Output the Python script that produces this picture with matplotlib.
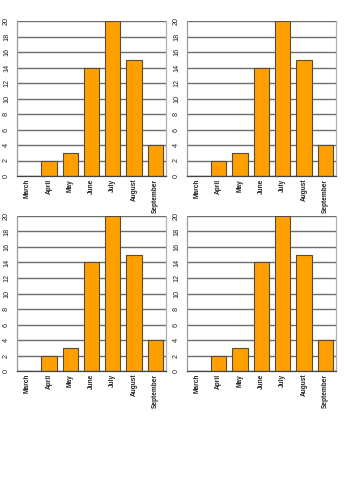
import matplotlib

matplotlib.use("Agg")
import matplotlib.pyplot as plt

months = ["March", "April", "May", "June", "July", "August", "September"]
counts = [0, 2, 3, 14, 20, 15, 4]
y_ticks = [0, 2, 4, 6, 8, 10, 12, 14, 16, 18, 20]

BAR_FACE = "#ffa000"
BAR_EDGE = "#5a4a38"
GRID = "#6e6e6e"

plt.rcParams["font.family"] = ["Liberation Sans", "DejaVu Sans"]

fig = plt.figure(figsize=(3.46, 5.0), dpi=100, facecolor="white")

# same chart repeated in a 2x2 sheet
panels = [
    (0.049, 0.648),
    (0.540, 0.648),
    (0.049, 0.258),
    (0.540, 0.258),
]
width, height = 0.431, 0.310

for left, bottom in panels:
    ax = fig.add_axes([left, bottom, width, height])
    ax.set_axisbelow(True)
    ax.yaxis.grid(True, color=GRID, linewidth=1.0)
    ax.bar(range(len(months)), counts, width=0.72, color=BAR_FACE,
           edgecolor=BAR_EDGE, linewidth=0.8)
    ax.set_xlim(-0.5, len(months) - 0.5)
    ax.set_ylim(0, 20)
    ax.set_yticks(y_ticks)
    ax.set_yticklabels([str(v) for v in y_ticks], rotation=90, va="center",
                       fontsize=5.2, color="#222222")
    ax.set_xticks(range(len(months)))
    ax.set_xticklabels(months, rotation=90, fontsize=4.7, fontweight="bold",
                       color="#222222")
    ax.tick_params(axis="y", length=0, pad=5)
    ax.tick_params(axis="x", length=0, pad=2)
    ax.spines["top"].set_visible(False)
    ax.spines["left"].set_color("#9a9a9a")
    ax.spines["right"].set_color("#b0b0b0")
    ax.spines["bottom"].set_color("#444444")
    for spine in ax.spines.values():
        spine.set_linewidth(0.9)

fig.savefig("out.png", dpi=100, facecolor=fig.get_facecolor())
plt.close(fig)
